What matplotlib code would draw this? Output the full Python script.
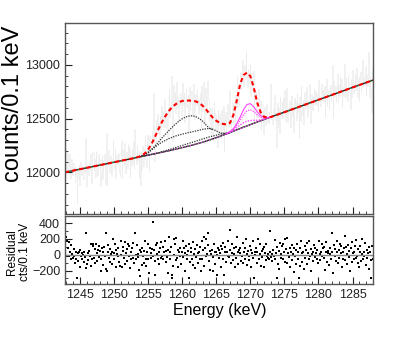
import matplotlib
matplotlib.use("Agg")
import matplotlib.pyplot as plt
import numpy as np
from matplotlib.ticker import MultipleLocator

plt.rcParams['font.family'] = ['Liberation Sans', 'DejaVu Sans']

# histogram: 0.1 keV bins from 1242.8 keV
bin_lo = 1242.8
bin_w = 0.1
counts = [
    12156, 12226, 11986, 12186, 12096, 11996, 12166, 12046, 11946, 12126,
    12029, 11979, 12089, 11999, 11909, 12049, 11969, 11719, 12039, 11939,
    12072, 11882, 12092, 12022, 11972, 12052, 12032, 11942, 12062, 12002,
    12315, 11875, 11925, 12065, 11975, 12095, 12025, 12175, 11905, 11985,
    12188, 12168, 12018, 12128, 11958, 12198, 12078, 11978, 12118, 12168,
    12041, 12121, 11871, 12011, 12161, 11941, 12101, 12171, 12061, 11891,
    12364, 11874, 12114, 12204, 12044, 11994, 12154, 12094, 11964, 12124,
    12297, 12117, 12037, 12227, 11947, 12157, 12107, 12077, 12177, 12007,
    11970, 12110, 12290, 11950, 12210, 12160, 12070, 12270, 11990, 12130,
    12193, 12043, 12263, 12103, 12233, 11953, 12153, 12063, 12213, 12083,
    12286, 12036, 12406, 12136, 12076, 12256, 12106, 12146, 11946, 12196,
    11880, 12192, 12025, 12248, 12142, 12056, 12220, 12346, 12123, 12050,
    12235, 12345, 12168, 12010, 12335, 12290, 12245, 12370, 12305, 12740,
    12405, 12105, 12285, 12495, 12395, 12545, 12355, 12455, 12305, 12525,
    12405, 12615, 12455, 12575, 12425, 12525, 12685, 12425, 12575, 12505,
    12315, 12612, 12780, 12517, 12604, 12681, 12900, 12295, 12462, 12809,
    12615, 12750, 12555, 12840, 12595, 12698, 12482, 12675, 12628, 12740,
    12532, 12695, 12827, 12630, 12742, 12464, 12685, 12776, 12607, 12668,
    12718, 12378, 12798, 12578, 12698, 12758, 12616, 12536, 12826, 12675,
    12494, 12732, 12630, 12777, 12674, 12550, 12686, 12581, 12736, 12420,
    12805, 12569, 12673, 12837, 12461, 12685, 12789, 12563, 12587, 12850,
    12683, 12477, 12601, 12355, 12550, 12594, 12328, 12492, 12656, 12550,
    12385, 12530, 12496, 12232, 12578, 12444, 12540, 12497, 12324, 12581,
    12538, 12406, 12614, 12202, 12490, 12559, 12368, 12497, 12636, 12435,
    12425, 12770, 12528, 12368, 12510, 12645, 12452, 12630, 12570, 12432,
    12720, 12610, 12900, 12750, 12620, 12830, 12820, 12920, 12780, 12870,
    13045, 12805, 12943, 13000, 12864, 13125, 12933, 12790, 12965, 12890,
    12835, 13005, 12720, 12920, 12855, 12765, 12945, 12455, 12745, 12685,
    12745, 12515, 12640, 12780, 12502, 12560, 12670, 12390, 12572, 12486,
    12582, 12360, 12609, 12528, 12438, 12639, 12490, 12472, 12524, 12456,
    12560, 12822, 12494, 12536, 12448, 12590, 12512, 12724, 12486, 12558,
    12240, 12642, 12424, 12596, 12368, 12700, 12562, 12514, 12666, 12501,
    12693, 12595, 12767, 12479, 12641, 12783, 12465, 12597, 12551, 12664,
    12426, 12628, 12710, 12522, 12604, 12376, 12688, 12580, 12662, 12487,
    12739, 12561, 12643, 12315, 12697, 12479, 12801, 12643, 12537, 12670,
    12452, 12744, 12596, 12698, 12790, 12522, 12664, 12606, 12822, 12643,
    12455, 12727, 12669, 12583, 12705, 12787, 12639, 12758, 12690, 12626,
    12738, 12570, 12862, 12695, 12614, 12726, 12818, 12670, 12772, 12659,
    12801, 12513, 12735, 12867, 12620, 12732, 12765, 12587, 12730, 12812,
    12664, 12766, 12998, 12501, 12852, 12714, 12806, 12658, 12772, 12915,
    12647, 12809, 12713, 12896, 12778, 12870, 12612, 12795, 12707, 12858,
    13010, 12702, 12874, 12787, 12662, 12905, 12838, 12760, 12589, 12871,
    12703, 12955, 12817, 12739, 12841, 12913, 12765, 12967, 12792, 12704,
    12886, 12668, 12850, 12932, 12746, 12841, 13045, 12793, 12877, 12817,
    12989, 12711, 12903, 12802, 12863, 13120, 12701, 12890, 12788, 12560,
    12965, 12795,
]

residuals = [
    150, 220, -20, 180, 90, -10, 160, 40, -60, 120,
    10, -40, 70, -20, -110, 30, -50, -300, 20, -80,
    40, -150, 60, -10, -60, 20, 0, -90, 30, -30,
    270, -170, -120, 20, -70, 50, -20, 130, -140, -60,
    130, 110, -40, 70, -100, 140, 20, -80, 60, 110,
    -30, 50, -200, -60, 90, -130, 30, 100, -10, -180,
    280, -210, 30, 120, -40, -90, 70, 10, -120, 40,
    200, 20, -60, 130, -150, 60, 10, -20, 80, -90,
    -140, 0, 180, -160, 100, 50, -40, 160, -120, 20,
    70, -80, 140, -20, 110, -170, 30, -60, 90, -40,
    150, -100, 270, 0, -60, 120, -30, 10, -190, 60,
    -270, 40, -130, 90, -20, -110, 50, 170, -60, -140,
    30, 130, -60, -230, 80, 20, -40, 70, -10, 410,
    60, -250, -80, 120, 10, 150, -50, 40, -120, 90,
    -40, 160, -10, 100, -60, 30, 180, -90, 50, -30,
    -230, 60, 220, -50, 30, 100, -260, -300, -140, 200,
    0, 130, -70, 210, -40, 60, -160, 30, -20, 90,
    -120, 40, 170, -30, 80, -200, 20, 110, -60, 0,
    50, -290, 130, -90, 30, 90, -50, -130, 160, 10,
    -170, 70, -30, 120, 20, -100, 40, -60, 100, -210,
    180, -50, 60, 230, -140, 90, 200, -20, 10, 280,
    120, -80, 50, -190, 10, 60, -200, -30, 140, 40,
    -120, 30, 0, -260, 90, -40, 60, 20, -150, 110,
    70, -60, 150, -260, 30, 100, -90, 40, 180, -20,
    -30, 310, 60, -110, 20, 140, -70, 90, 10, -150,
    100, -40, 220, 40, -120, 60, 20, 90, -80, -10,
    150, -100, 30, 80, -60, 200, 10, -130, 50, -20,
    -70, 110, -160, 60, 20, -40, 170, -290, 30, 0,
    90, -110, 40, 200, -60, 10, 130, -140, 50, -30,
    70, -150, 100, 20, -70, 130, -20, -40, 10, -60,
    40, 300, -30, 10, -80, 60, -20, 190, -50, 20,
    -300, 100, -120, 50, -180, 150, 10, -40, 110, -60,
    130, 30, 200, -90, 70, 210, -110, 20, -30, 80,
    -160, 40, 120, -70, 10, -220, 90, -20, 60, -120,
    130, -50, 30, -300, 80, -140, 180, 20, -90, 40,
    -180, 110, -40, 60, 150, -120, 20, -60, 170, -10,
    -200, 70, 10, -80, 40, 120, -30, 90, 20, -50,
    60, -110, 180, 10, -70, 40, 130, -20, 80, -40,
    100, -190, 30, 160, -90, 20, 50, -130, 10, 90,
    -60, 40, 270, -230, 120, -20, 70, -80, 30, 170,
    -100, 60, -40, 140, 20, 110, -150, 30, -60, 90,
    240, -70, 100, 10, -120, 120, 50, -30, -200, 80,
    -90, 160, 20, -60, 40, 110, -40, 190, -20, -110,
    70, -150, 30, 110, -80, 10, 200, -60, 40, -20,
    150, -130, 60, -40, 20, 100, -180, 30, -70, -300,
    110, -60,
]

# fit curves
bg_e = [1242.8, 1245, 1250, 1253, 1255, 1258, 1261, 1263, 1265, 1267, 1269,
        1271, 1273, 1275, 1280, 1285, 1288]
bg_y = [12000, 12029, 12094, 12133, 12160, 12200, 12245, 12280, 12322, 12370,
        12420, 12468, 12515, 12560, 12675, 12790, 12858]

tot_e = [1242.8, 1245, 1250, 1253, 1254, 1254.5, 1255, 1255.5, 1256, 1256.5,
         1257, 1257.5, 1258, 1258.5, 1259, 1259.5, 1260, 1260.5, 1261, 1261.5,
         1262, 1262.5, 1263, 1263.5, 1264, 1264.5, 1265, 1265.5, 1266, 1266.5,
         1267, 1267.5, 1268, 1268.5, 1269, 1269.5, 1270, 1270.5, 1271, 1271.5,
         1272, 1272.5, 1273, 1275, 1280, 1285, 1288]
tot_y = [12000, 12029, 12094, 12133, 12152, 12175, 12212, 12262, 12330, 12400,
         12465, 12520, 12568, 12605, 12632, 12652, 12664, 12668, 12668, 12666,
         12660, 12645, 12620, 12585, 12545, 12508, 12480, 12460, 12450, 12446,
         12458, 12530, 12665, 12820, 12905, 12928, 12895, 12790, 12650, 12560,
         12518, 12508, 12515, 12560, 12675, 12790, 12858]

g1_e = [1254, 1254.5, 1255, 1255.5, 1256, 1256.5, 1257, 1257.5, 1258, 1258.5,
        1259, 1259.5, 1260, 1260.5, 1261, 1261.5, 1262, 1262.5, 1263, 1263.5,
        1264, 1264.5]
g1_y = [12150, 12165, 12188, 12215, 12245, 12280, 12318, 12352, 12385, 12418,
        12448, 12475, 12498, 12515, 12524, 12526, 12518, 12500, 12476, 12440,
        12410, 12397]

g2_e = [1254, 1255, 1256, 1257, 1258, 1259, 1260, 1261, 1262, 1263, 1263.5,
        1264, 1264.5, 1265, 1265.5, 1266, 1266.5, 1267]
g2_y = [12150, 12180, 12235, 12280, 12312, 12338, 12355, 12370, 12385, 12400,
        12406, 12408, 12400, 12385, 12370, 12362, 12360, 12368]

step_e = [1254, 1256, 1258, 1260, 1262, 1264, 1266, 1267]
step_y = [12148, 12172, 12210, 12250, 12290, 12330, 12362, 12372]

mbg_e = [1254, 1256, 1258, 1260, 1262, 1264, 1266, 1268, 1270, 1272, 1273]
mbg_y = [12148, 12173, 12200, 12230, 12262, 12300, 12346, 12395, 12444, 12492, 12515]

m_e = [1266.5, 1267, 1267.5, 1268, 1268.5, 1269, 1269.5, 1270, 1270.5, 1271,
       1271.5, 1272, 1272.5, 1273]
m1_y = [12358, 12378, 12406, 12451, 12514, 12583, 12631, 12639, 12609, 12564,
        12528, 12511, 12509, 12515]
m2_y = [12358, 12376, 12399, 12435, 12483, 12536, 12573, 12582, 12565, 12535,
        12514, 12505, 12507, 12515]
m3_y = [12358, 12374, 12392, 12415, 12440, 12462, 12476, 12482, 12484, 12485,
        12488, 12496, 12507, 12515]

edges = bin_lo + bin_w * np.arange(len(counts) + 1)
centers = edges[:-1] + bin_w / 2

fig = plt.figure(figsize=(4.15, 3.59), dpi=100)
ax = fig.add_axes([0.1566, 0.4039, 0.7422, 0.5321])
axr = fig.add_axes([0.1566, 0.2089, 0.7422, 0.1894])

ax.stairs(counts, edges, color='#ececec', lw=0.5)
ax.plot(bg_e, bg_y, color='#222222', lw=1.0)
ax.plot(bg_e, bg_y, color='#3a9a3a', lw=0.9, ls=(0, (1, 2.5)))
ax.plot(mbg_e, mbg_y, color='#ff44ff', lw=0.8, ls=(0, (1, 1.5)))
ax.plot(step_e, step_y, color='#333333', lw=0.9, ls=(0, (1, 1)))
ax.plot(g2_e, g2_y, color='#333333', lw=0.9, ls=(0, (1, 1)))
ax.plot(g1_e, g1_y, color='#333333', lw=0.9, ls=(0, (1, 1)))
ax.plot(m_e, m1_y, color='#ff44ff', lw=0.8)
ax.plot(m_e, m2_y, color='#ff44ff', lw=0.9, ls=(0, (1, 1)))
ax.plot(m_e, m3_y, color='#ff44ff', lw=1.0, ls=(0, (1, 1)))
ax.plot(tot_e, tot_y, color='red', lw=1.5, ls=(0, (2, 1.5)))

ax.set_xlim(1242.8, 1288.0)
ax.set_ylim(11612, 13390)
ax.yaxis.set_major_locator(MultipleLocator(500))
ax.yaxis.set_minor_locator(MultipleLocator(100))
ax.xaxis.set_major_locator(MultipleLocator(5))
ax.xaxis.set_minor_locator(MultipleLocator(1))
ax.tick_params(which='both', direction='in', top=False, right=False,
               labelbottom=False, labelsize=9, colors='#222222')
ax.tick_params(which='major', length=5)
ax.tick_params(which='minor', length=2.5)

axr.plot(centers, residuals, 's', color='black', ms=2.0, mew=0)
axr.axhline(0, color='#888888', lw=1.0)
axr.set_xlim(1242.8, 1288.0)
axr.set_ylim(-370, 490)
axr.yaxis.set_major_locator(MultipleLocator(200))
axr.yaxis.set_minor_locator(MultipleLocator(100))
axr.xaxis.set_major_locator(MultipleLocator(5))
axr.xaxis.set_minor_locator(MultipleLocator(1))
axr.tick_params(which='both', direction='in', top=False, right=False,
                labelsize=9, colors='#222222')
axr.tick_params(which='major', length=5)
axr.tick_params(which='minor', length=2.5)

for a in (ax, axr):
    for s in a.spines.values():
        s.set_color('#555555')
        s.set_linewidth(1.0)

fig.text(0.031, 0.710, 'counts/0.1 keV', rotation=90, ha='center', va='center',
         fontsize=17)
fig.text(0.044, 0.299, 'Residual\ncts/0.1 keV', rotation=90, ha='center',
         va='center', fontsize=8.5, linespacing=1.15)
fig.text(0.529, 0.134, 'Energy (keV)', ha='center', va='center', fontsize=11.5)

fig.savefig('out.png', dpi=100)
